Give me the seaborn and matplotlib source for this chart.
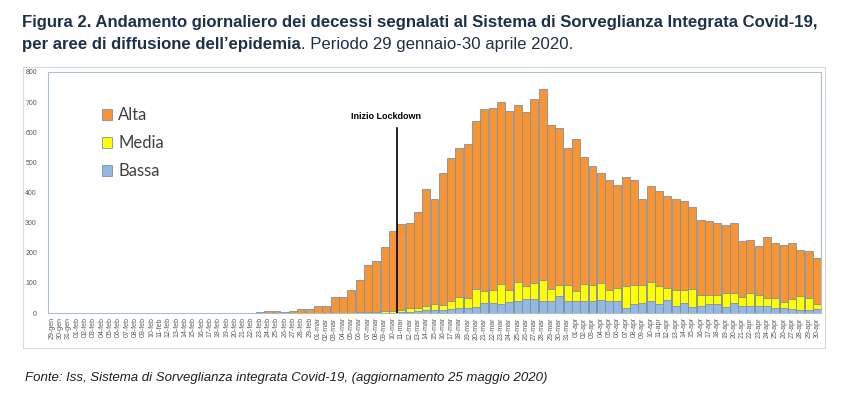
import matplotlib
matplotlib.use("Agg")
import matplotlib.pyplot as plt
from matplotlib import font_manager
from matplotlib.patches import Patch, Rectangle
import numpy as np
import pandas as pd
import seaborn as sns

# day labels (29 gen - 30 apr 2020)
months = [("gen", range(29, 32)), ("feb", range(1, 30)), ("mar", range(1, 32)), ("apr", range(1, 31))]
giorni = ["%02d-%s" % (d, m) for m, days in months for d in days]

# deaths per day, by area
alta_gen = [0, 0, 0]
alta_feb = [0] * 20 + [1, 1, 2, 5, 8, 3, 5, 12, 12]
alta_mar = [22, 22, 53, 53, 76, 108, 158, 171, 213, 268,
            285, 281, 319, 386, 347, 439, 475, 495, 512, 555,
            604, 604, 604, 594, 588, 576, 611, 633, 542, 520, 456]
alta_apr = [503, 421, 395, 365, 364, 344, 362, 350, 286, 317,
            316, 307, 302, 295, 271, 249, 244, 241, 224, 230,
            186, 174, 162, 202, 182, 189, 187, 152, 157, 153]

media_gen = [0, 0, 0]
media_feb = [0] * 29
media_mar = [0, 0, 1, 1, 0, 1, 1, 1, 4, 4,
             7, 14, 10, 15, 20, 16, 26, 38, 33, 61,
             41, 44, 66, 40, 63, 44, 55, 69, 42, 36, 54]
media_apr = [35, 58, 53, 58, 36, 43, 73, 64, 61, 63,
             60, 41, 54, 43, 62, 37, 29, 30, 47, 36,
             31, 46, 37, 29, 35, 22, 34, 48, 39, 19]

bassa_gen = [0, 0, 0]
bassa_feb = [0] * 29
bassa_mar = [0, 0, 0, 0, 1, 1, 1, 1, 1, 1,
             4, 4, 7, 9, 10, 11, 13, 16, 17, 20,
             32, 34, 31, 37, 40, 46, 46, 41, 39, 57, 39]
bassa_apr = [39, 39, 41, 43, 41, 39, 17, 29, 32, 41,
             30, 42, 23, 34, 19, 23, 31, 29, 21, 32,
             22, 22, 22, 22, 16, 16, 12, 9, 10, 12]

alta = np.array(alta_gen + alta_feb + alta_mar + alta_apr)
media = np.array(media_gen + media_feb + media_mar + media_apr)
bassa = np.array(bassa_gen + bassa_feb + bassa_mar + bassa_apr)

df = pd.DataFrame({"giorno": giorni, "alta": alta, "media": media, "bassa": bassa})
df["tot"] = df["alta"] + df["media"] + df["bassa"]
df["mb"] = df["media"] + df["bassa"]

names = {f.name for f in font_manager.fontManager.ttflist}
narrow = "Liberation Sans Narrow" if "Liberation Sans Narrow" in names else "Liberation Sans"
plt.rcParams["font.family"] = ["Liberation Sans", "DejaVu Sans"]

c_alta = "#F79433"
c_media = "#FFFF00"
c_bassa = "#95B8E3"
c_edge = "#7F8FA6"

fig = plt.figure(figsize=(8.48, 3.97), dpi=100)
W, H = 848, 397
ax = fig.add_axes([48 / W, 1 - 313 / H, (821 - 48) / W, (313 - 72) / H])

kw = dict(order=giorni, width=0.96, edgecolor=c_edge, linewidth=0.6, saturation=1, ax=ax)
sns.barplot(data=df, x="giorno", y="tot", color=c_alta, **kw)
sns.barplot(data=df, x="giorno", y="mb", color=c_media, **kw)
sns.barplot(data=df, x="giorno", y="bassa", color=c_bassa, **kw)

ax.set_xlim(-0.48, len(giorni) - 0.52)
ax.set_ylim(0, 800)
ax.set_yticks(range(0, 801, 100))
ax.set_xlabel("")
ax.set_ylabel("")
ax.tick_params(axis="y", length=0, pad=8, labelsize=5, labelcolor="#595959")
ax.tick_params(axis="x", length=0, pad=3, labelsize=5, labelcolor="#595959", rotation=90)
for s in ax.spines.values():
    s.set_color("#A9C0CC")
    s.set_linewidth(0.8)

# lockdown marker
ax.plot([41.5, 41.5], [0, 613], color="black", lw=1.2)
ax.text(40.2, 653, "Inizio Lockdown", ha="center", va="center", fontsize=6.5, fontweight="bold")

handles = [Patch(facecolor=c, edgecolor=c_edge, lw=0.6) for c in (c_alta, c_media, c_bassa)]
ax.legend(handles, ["Alta", "Media", "Bassa"], loc="upper left", bbox_to_anchor=(0.05, 0.915),
          frameon=False, labelcolor="#404040", handlelength=0.6, handleheight=0.6,
          handletextpad=0.4, labelspacing=0.72, prop={"family": ["Lato", "DejaVu Sans"], "size": 12})

# chart frame
fig.patches.append(Rectangle((23 / W, 1 - 348 / H), 802 / W, 281 / H, transform=fig.transFigure,
                             fill=False, edgecolor="#D9D9D9", lw=0.8))

renderer = fig.canvas.get_renderer()
navy = "#1F3049"

def fit(t, target):
    w = t.get_window_extent(renderer).width
    t.set_fontsize(t.get_fontsize() * target / w)

t1 = fig.text(22 / W, 1 - 22 / H, "Figura 2. Andamento giornaliero dei decessi segnalati al Sistema di Sorveglianza Integrata Covid-19,",
              fontsize=11, fontweight="bold", color=navy, family=narrow, va="center")
fit(t1, 804)
t2 = fig.text(22 / W, 1 - 45 / H, "per aree di diffusione dell\u2019epidemia", fontsize=t1.get_fontsize(),
              fontweight="bold", color=navy, family=narrow, va="center")
x2 = t2.get_window_extent(renderer).x1
fig.text(x2 / W, 1 - 45 / H, ". Periodo 29 gennaio-30 aprile 2020.", fontsize=t1.get_fontsize(),
         color=navy, family=narrow, va="center")

t3 = fig.text(25 / W, 1 - 378 / H, "Fonte: Iss, Sistema di Sorveglianza integrata Covid-19, (aggiornamento 25 maggio 2020)",
              fontsize=9, style="italic", color="#1F1F1F", va="center")
fit(t3, 523)

fig.savefig("out.png", dpi=100)
